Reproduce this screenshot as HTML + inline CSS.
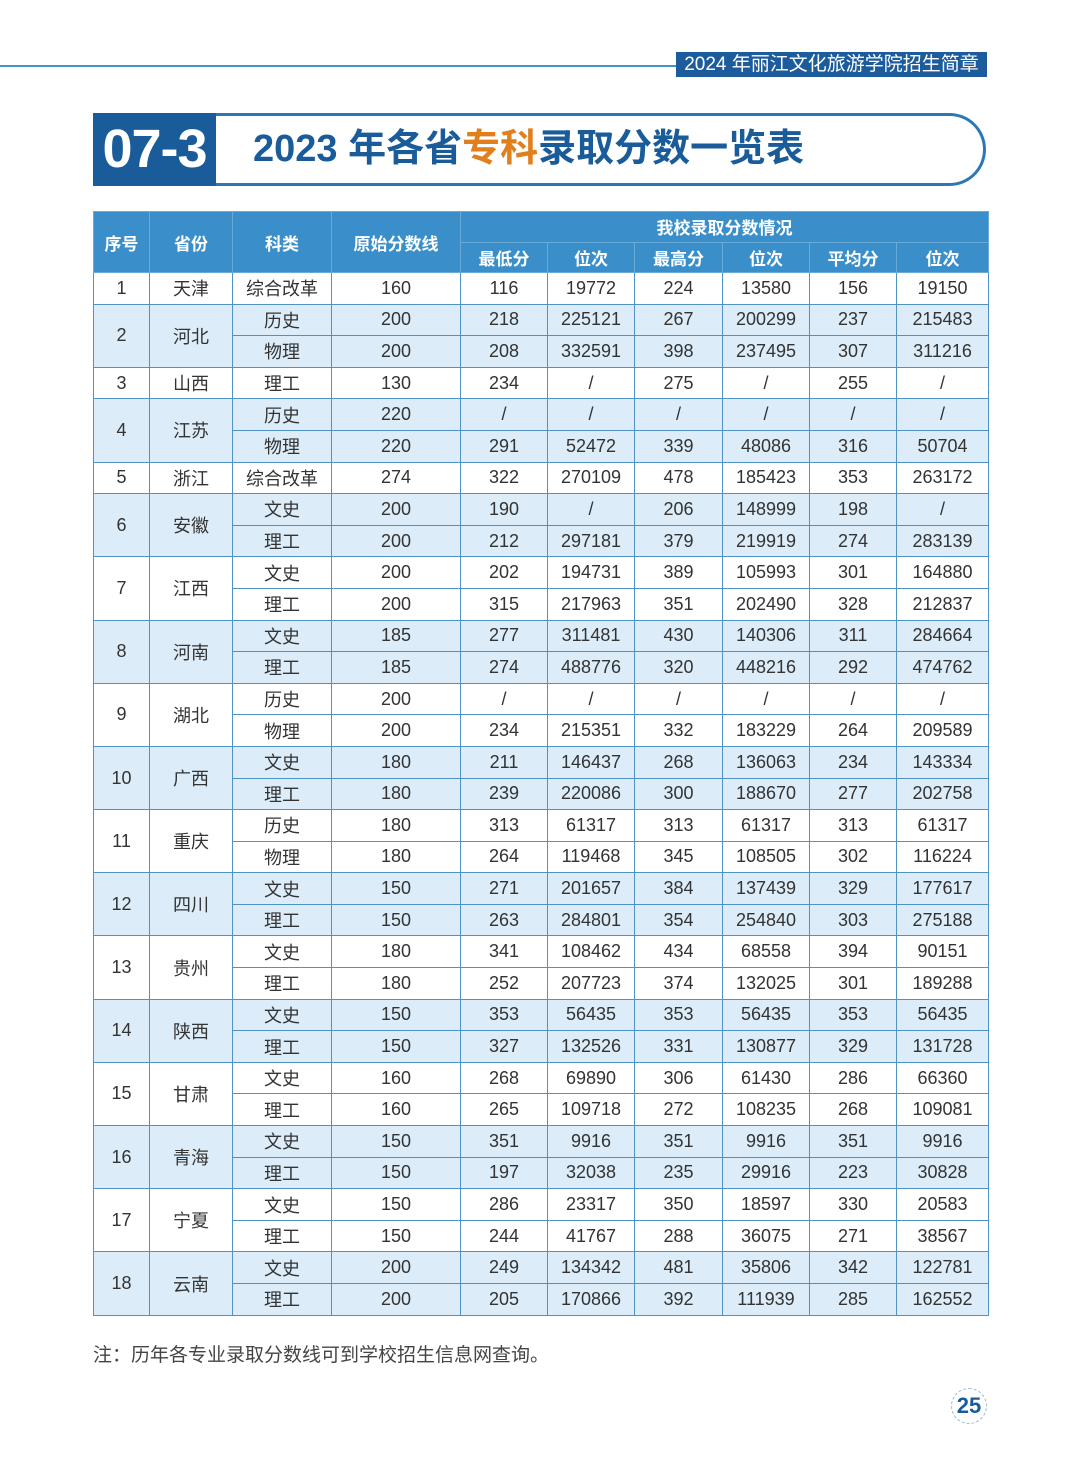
<!DOCTYPE html>
<html><head><meta charset="utf-8"><style>
body{margin:0;width:1080px;height:1465px;background:#fff;position:relative;font-family:"Liberation Sans","Noto Sans CJK SC",sans-serif;overflow:hidden}
.hl{position:absolute;left:0;top:65px;width:680px;height:2px;background:#3f95c8}
.hb{position:absolute;left:676px;top:52px;width:311px;height:25px;background:#1c5c9c;color:#fff;font-size:19px;line-height:25px;text-align:center}
.tbox{position:absolute;left:93px;top:113px;width:890px;height:67px;border:3px solid #2a78b8;border-radius:0 40px 40px 0;border-left:none}
.tnum{position:absolute;left:93px;top:113px;width:123px;height:73px;background:#1a5b9a;color:#fff;font-size:54px;font-weight:bold;line-height:73px;text-align:center;letter-spacing:-1px}
.ttl{position:absolute;left:253px;top:118px;font-size:38px;font-weight:bold;color:#1a5b9a;line-height:62px}
.ttl span{color:#e07f1c}
table{position:absolute;left:93px;top:211px;border-collapse:collapse;table-layout:fixed;width:895px}
td{border:1.5px solid #4f93c4;text-align:center;font-size:18px;color:#333;padding:0;height:30.6px}
tr.h td{background:#3a8fca;color:#fff;font-weight:bold;font-size:17px;height:29.5px;border-color:#6aaad6}
.b td{background:#dcedf9}
.note{position:absolute;left:93px;top:1340px;font-size:19px;color:#444}
.pg{position:absolute;left:951px;top:1388px;width:34px;height:34px;border:1px dashed #8cbbe0;border-radius:50%;color:#1a5b9a;font-weight:bold;font-size:22px;line-height:34px;text-align:center}
</style></head><body>
<div class="hl"></div><div class="hb">2024 年丽江文化旅游学院招生简章</div>
<div class="tbox"></div><div class="tnum">07-3</div>
<div class="ttl">2023 年各省<span>专科</span>录取分数一览表</div>
<table>
<colgroup><col style="width:56px"><col style="width:83px"><col style="width:99px"><col style="width:129px"><col style="width:87px"><col style="width:87px"><col style="width:88px"><col style="width:87px"><col style="width:87px"><col style="width:92px"></colgroup>
<tr class="h"><td rowspan="2">序号</td><td rowspan="2">省份</td><td rowspan="2">科类</td><td rowspan="2">原始分数线</td><td colspan="6">我校录取分数情况</td></tr>
<tr class="h"><td>最低分</td><td>位次</td><td>最高分</td><td>位次</td><td>平均分</td><td>位次</td></tr>
<tr><td>1</td><td>天津</td><td>综合改革</td><td>160</td><td>116</td><td>19772</td><td>224</td><td>13580</td><td>156</td><td>19150</td></tr>
<tr class="b"><td rowspan="2">2</td><td rowspan="2">河北</td><td>历史</td><td>200</td><td>218</td><td>225121</td><td>267</td><td>200299</td><td>237</td><td>215483</td></tr>
<tr class="b"><td>物理</td><td>200</td><td>208</td><td>332591</td><td>398</td><td>237495</td><td>307</td><td>311216</td></tr>
<tr><td>3</td><td>山西</td><td>理工</td><td>130</td><td>234</td><td>/</td><td>275</td><td>/</td><td>255</td><td>/</td></tr>
<tr class="b"><td rowspan="2">4</td><td rowspan="2">江苏</td><td>历史</td><td>220</td><td>/</td><td>/</td><td>/</td><td>/</td><td>/</td><td>/</td></tr>
<tr class="b"><td>物理</td><td>220</td><td>291</td><td>52472</td><td>339</td><td>48086</td><td>316</td><td>50704</td></tr>
<tr><td>5</td><td>浙江</td><td>综合改革</td><td>274</td><td>322</td><td>270109</td><td>478</td><td>185423</td><td>353</td><td>263172</td></tr>
<tr class="b"><td rowspan="2">6</td><td rowspan="2">安徽</td><td>文史</td><td>200</td><td>190</td><td>/</td><td>206</td><td>148999</td><td>198</td><td>/</td></tr>
<tr class="b"><td>理工</td><td>200</td><td>212</td><td>297181</td><td>379</td><td>219919</td><td>274</td><td>283139</td></tr>
<tr><td rowspan="2">7</td><td rowspan="2">江西</td><td>文史</td><td>200</td><td>202</td><td>194731</td><td>389</td><td>105993</td><td>301</td><td>164880</td></tr>
<tr><td>理工</td><td>200</td><td>315</td><td>217963</td><td>351</td><td>202490</td><td>328</td><td>212837</td></tr>
<tr class="b"><td rowspan="2">8</td><td rowspan="2">河南</td><td>文史</td><td>185</td><td>277</td><td>311481</td><td>430</td><td>140306</td><td>311</td><td>284664</td></tr>
<tr class="b"><td>理工</td><td>185</td><td>274</td><td>488776</td><td>320</td><td>448216</td><td>292</td><td>474762</td></tr>
<tr><td rowspan="2">9</td><td rowspan="2">湖北</td><td>历史</td><td>200</td><td>/</td><td>/</td><td>/</td><td>/</td><td>/</td><td>/</td></tr>
<tr><td>物理</td><td>200</td><td>234</td><td>215351</td><td>332</td><td>183229</td><td>264</td><td>209589</td></tr>
<tr class="b"><td rowspan="2">10</td><td rowspan="2">广西</td><td>文史</td><td>180</td><td>211</td><td>146437</td><td>268</td><td>136063</td><td>234</td><td>143334</td></tr>
<tr class="b"><td>理工</td><td>180</td><td>239</td><td>220086</td><td>300</td><td>188670</td><td>277</td><td>202758</td></tr>
<tr><td rowspan="2">11</td><td rowspan="2">重庆</td><td>历史</td><td>180</td><td>313</td><td>61317</td><td>313</td><td>61317</td><td>313</td><td>61317</td></tr>
<tr><td>物理</td><td>180</td><td>264</td><td>119468</td><td>345</td><td>108505</td><td>302</td><td>116224</td></tr>
<tr class="b"><td rowspan="2">12</td><td rowspan="2">四川</td><td>文史</td><td>150</td><td>271</td><td>201657</td><td>384</td><td>137439</td><td>329</td><td>177617</td></tr>
<tr class="b"><td>理工</td><td>150</td><td>263</td><td>284801</td><td>354</td><td>254840</td><td>303</td><td>275188</td></tr>
<tr><td rowspan="2">13</td><td rowspan="2">贵州</td><td>文史</td><td>180</td><td>341</td><td>108462</td><td>434</td><td>68558</td><td>394</td><td>90151</td></tr>
<tr><td>理工</td><td>180</td><td>252</td><td>207723</td><td>374</td><td>132025</td><td>301</td><td>189288</td></tr>
<tr class="b"><td rowspan="2">14</td><td rowspan="2">陕西</td><td>文史</td><td>150</td><td>353</td><td>56435</td><td>353</td><td>56435</td><td>353</td><td>56435</td></tr>
<tr class="b"><td>理工</td><td>150</td><td>327</td><td>132526</td><td>331</td><td>130877</td><td>329</td><td>131728</td></tr>
<tr><td rowspan="2">15</td><td rowspan="2">甘肃</td><td>文史</td><td>160</td><td>268</td><td>69890</td><td>306</td><td>61430</td><td>286</td><td>66360</td></tr>
<tr><td>理工</td><td>160</td><td>265</td><td>109718</td><td>272</td><td>108235</td><td>268</td><td>109081</td></tr>
<tr class="b"><td rowspan="2">16</td><td rowspan="2">青海</td><td>文史</td><td>150</td><td>351</td><td>9916</td><td>351</td><td>9916</td><td>351</td><td>9916</td></tr>
<tr class="b"><td>理工</td><td>150</td><td>197</td><td>32038</td><td>235</td><td>29916</td><td>223</td><td>30828</td></tr>
<tr><td rowspan="2">17</td><td rowspan="2">宁夏</td><td>文史</td><td>150</td><td>286</td><td>23317</td><td>350</td><td>18597</td><td>330</td><td>20583</td></tr>
<tr><td>理工</td><td>150</td><td>244</td><td>41767</td><td>288</td><td>36075</td><td>271</td><td>38567</td></tr>
<tr class="b"><td rowspan="2">18</td><td rowspan="2">云南</td><td>文史</td><td>200</td><td>249</td><td>134342</td><td>481</td><td>35806</td><td>342</td><td>122781</td></tr>
<tr class="b"><td>理工</td><td>200</td><td>205</td><td>170866</td><td>392</td><td>111939</td><td>285</td><td>162552</td></tr>
</table>
<div class="note">注：历年各专业录取分数线可到学校招生信息网查询。</div>
<div class="pg">25</div>
</body></html>
